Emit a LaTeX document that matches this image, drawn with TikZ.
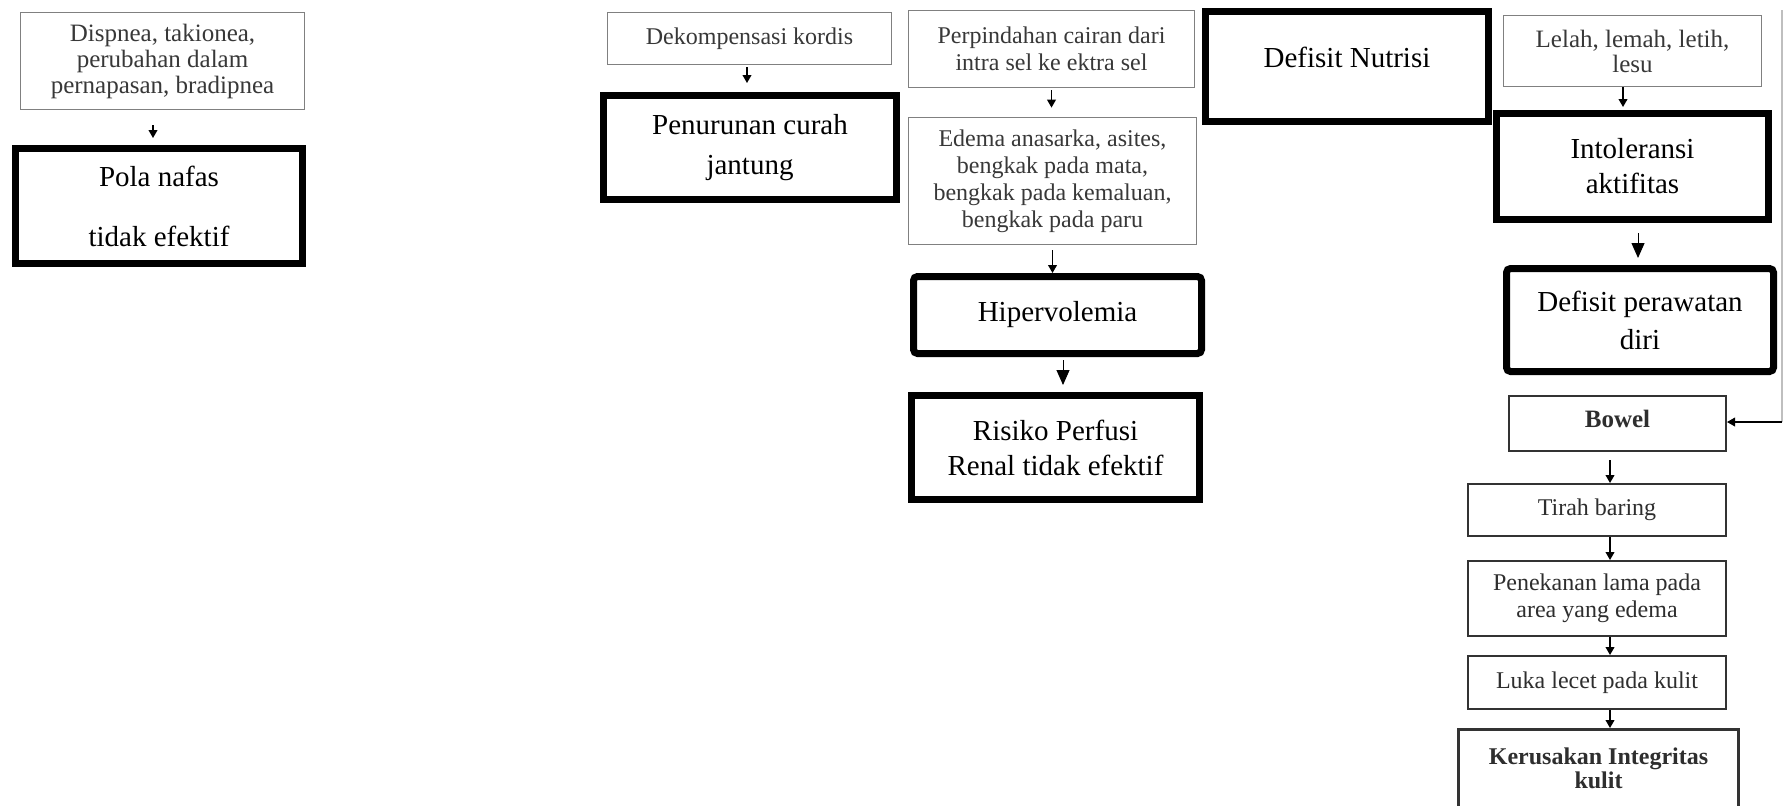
\documentclass[tikz,border=0pt]{standalone}
\usepackage{fontspec}
\setmainfont{Liberation Serif}
\usetikzlibrary{arrows.meta}
\begin{document}
\begin{tikzpicture}[x=0.5pt,y=-0.5pt,
  graybox/.style={draw=black!50, line width=0.9pt, text=black!78, align=center, inner sep=0pt, font=\fontsize{12}{13.5}\selectfont},
  darkbox/.style={draw=black!80, line width=1pt, text=black!82, align=center, inner sep=0pt, font=\fontsize{12}{13.5}\selectfont},
  thickbox/.style={draw=black, line width=3.5pt, align=center, inner sep=0pt, font=\fontsize{14.5}{17.5}\selectfont},
  arr/.style={line width=0.7pt, -{Triangle[width=4.4pt,length=4pt]}},
  bigarr/.style={line width=0.5pt, -{Triangle[width=6.5pt,length=7.5pt]}},
]
\useasboundingbox (0,0) rectangle (1786,805);
\fill[white] (0,0) rectangle (1786,805);

% left column
\node[graybox, minimum width=142pt, minimum height=48.5pt, font=\fontsize{12.5}{13}\selectfont] (dis) at (162.5,61) {Dispnea, takionea,\\perubahan dalam\\pernapasan, bradipnea};
\node[thickbox, minimum width=143.5pt, minimum height=57.5pt, font=\fontsize{14.5}{30}\selectfont] (pola) at (159,206) {Pola nafas\\tidak efektif};

% second column
\node[graybox, minimum width=142pt, minimum height=26pt] (dek) at (749.5,38.5) {Dekompensasi kordis};
\node[thickbox, minimum width=146.5pt, minimum height=52pt, font=\fontsize{14.5}{20}\selectfont] (pen) at (750,147.5) {Penurunan curah\\jantung};

% third column
\node[graybox, minimum width=143pt, minimum height=38.5pt] (per) at (1051.5,49) {Perpindahan cairan dari\\intra sel ke ektra sel};
\node[graybox, minimum width=144pt, minimum height=63.5pt] (ede) at (1052.5,181) {Edema anasarka, asites,\\bengkak pada mata,\\bengkak pada kemaluan,\\bengkak pada paru};
\node[thickbox, rounded corners=2pt, minimum width=144pt, minimum height=38.5pt] (hip) at (1057.5,315) {Hipervolemia};
\node[thickbox, minimum width=144pt, minimum height=52pt] (ris) at (1055.5,447.5) {Risiko Perfusi\\Renal tidak efektif};

% fourth column
\node[thickbox, minimum width=141.5pt, minimum height=55pt, text depth=9pt] (nut) at (1347,66.5) {Defisit Nutrisi};

% right column
\node[graybox, minimum width=129pt, minimum height=35.5pt, font=\fontsize{12.5}{12.5}\selectfont] (lel) at (1632.5,51) {Lelah, lemah, letih,\\lesu};
\node[thickbox, minimum width=136pt, minimum height=53pt] (int) at (1632.5,166.5) {Intoleransi\\aktifitas};
\node[thickbox, rounded corners=2pt, minimum width=133.5pt, minimum height=51.5pt, font=\fontsize{14.5}{19}\selectfont] (dp) at (1640,320) {Defisit perawatan\\diri};
\node[darkbox, minimum width=108.5pt, minimum height=27.5pt, text depth=5pt, font=\bfseries\fontsize{12.5}{13.5}\selectfont] (bow) at (1617.5,423.5) {Bowel};
\node[darkbox, minimum width=129pt, minimum height=26pt] (tir) at (1597,510) {Tirah baring};
\node[darkbox, minimum width=129pt, minimum height=37.5pt] (pnk) at (1597,598.5) {Penekanan lama pada\\area yang edema};
\node[darkbox, minimum width=129pt, minimum height=26.5pt] (luk) at (1597,682.5) {Luka lecet pada kulit};
\node[darkbox, line width=1.5pt, minimum width=140pt, minimum height=52pt, text depth=13.5pt, font=\bfseries\fontsize{12}{12}\selectfont] (ker) at (1598.5,781.5) {Kerusakan Integritas\\kulit};

% connectors
\draw[arr, shorten <=7.5pt, shorten >=3.5pt] ([xshift=-4.75pt]dis.south) -- ([xshift=-4.75pt]dis.south |- pola.north);
\draw[arr, shorten <=1pt, shorten >=4.5pt] ([xshift=-1.25pt]dek.south) -- ([xshift=-1.25pt]dek.south |- pen.north);
\draw[arr, shorten <=1pt, shorten >=4.5pt] (per.south) -- (per.south |- ede.north);
\draw[arr, shorten <=2.5pt] (ede.south) -- (ede.south |- hip.north);
\draw[bigarr, shorten <=1.5pt, shorten >=3.5pt] ([xshift=2.75pt]hip.south) -- ([xshift=2.75pt]hip.south |- ris.north);
\draw[arr, shorten >=1.5pt] ([xshift=-4.75pt]lel.south) -- ([xshift=-4.75pt]lel.south |- int.north);
\draw[bigarr, shorten <=5pt, shorten >=3.5pt] ([xshift=2.75pt]int.south) -- ([xshift=2.75pt]int.south |- dp.north);
\coordinate (cx) at (1610,0);
\draw[arr, shorten <=4pt] (bow.south -| cx) -- (tir.north -| cx);
\draw[arr] (tir.south -| cx) -- (pnk.north -| cx);
\draw[arr] (pnk.south -| cx) -- (luk.north -| cx);
\draw[arr] (luk.south -| cx) -- (ker.north -| cx);
\coordinate (rtop) at (1782,10);
\coordinate (rc) at (1782,422);
\draw[gray!50, line width=0.6pt] (rtop) -- (rc);
\draw[arr, line width=0.6pt] (rc) -- (rc -| bow.east);
\end{tikzpicture}
\end{document}
